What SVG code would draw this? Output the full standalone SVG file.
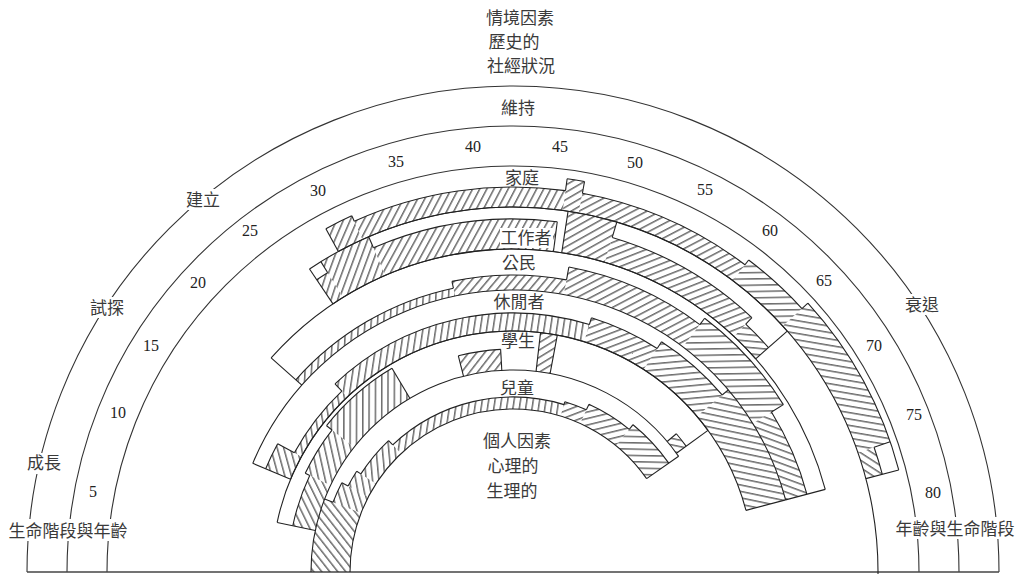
<svg xmlns="http://www.w3.org/2000/svg" width="1017" height="574" viewBox="0 0 1017 574">
<defs>
<pattern id="h" patternUnits="userSpaceOnUse" width="6.3" height="6.3" patternTransform="rotate(-38)">
<line x1="1" y1="-1" x2="1" y2="8" stroke="#2b2b2b" stroke-width="1.05"/>
</pattern>
</defs>
<style>
.h{fill:none;stroke:url(#h)}
.o{fill:none;stroke:#222;stroke-width:1.1}
.s{fill:none;stroke:#333;stroke-width:1.1}
.t{font-family:"Noto Sans CJK TC","Noto Sans CJK SC",sans-serif;font-size:17px;fill:#3a3a3a;text-anchor:middle}
.n{font-family:"Liberation Serif",serif;font-size:16px;fill:#222;text-anchor:middle}
.m{fill:#fff;stroke:none}
</style>
<rect width="1017" height="574" fill="#fff"/>

<g id="stages">
<circle class="s" cx="513" cy="572" r="486" pathLength="360" stroke-dasharray="180 360" transform="rotate(180 513 572)"/>
<circle class="s" cx="513" cy="572" r="446" pathLength="360" stroke-dasharray="180 360" transform="rotate(180 513 572)"/>
<circle class="s" cx="513" cy="572" r="406" pathLength="360" stroke-dasharray="180 360" transform="rotate(180 513 572)"/>
<line x1="27" y1="572" x2="999" y2="572" stroke="#444" stroke-width="1.6"/>
</g>

<g id="role-child">
<circle class="h" cx="513" cy="572" r="182.5" stroke-width="39" pathLength="360" stroke-dasharray="21.18 360" transform="rotate(180 513 572)"/>
<circle class="h" cx="513" cy="572" r="178" stroke-width="30" pathLength="360" stroke-dasharray="6.35 360" transform="rotate(201.18 513 572)"/>
<circle class="h" cx="513" cy="572" r="174.5" stroke-width="23" pathLength="360" stroke-dasharray="5.29 360" transform="rotate(207.53 513 572)"/>
<circle class="h" cx="513" cy="572" r="172" stroke-width="18" pathLength="360" stroke-dasharray="13.77 360" transform="rotate(212.82 513 572)"/>
<circle class="h" cx="513" cy="572" r="169" stroke-width="12" pathLength="360" stroke-dasharray="60.35 360" transform="rotate(226.59 513 572)"/>
<circle class="h" cx="513" cy="572" r="170.5" stroke-width="15" pathLength="360" stroke-dasharray="7.41 360" transform="rotate(286.94 513 572)"/>
<circle class="h" cx="513" cy="572" r="173.5" stroke-width="21" pathLength="360" stroke-dasharray="14.83 360" transform="rotate(294.35 513 572)"/>
<circle class="h" cx="513" cy="572" r="176.5" stroke-width="27" pathLength="360" stroke-dasharray="15.88 360" transform="rotate(309.18 513 572)"/>
<circle class="o" cx="513" cy="572" r="163" pathLength="360" stroke-dasharray="145.06 360" transform="rotate(180 513 572)"/>
<circle class="o" cx="513" cy="572" r="202" pathLength="360" stroke-dasharray="145.06 360" transform="rotate(180 513 572)"/>
<circle class="o" cx="513" cy="572" r="193" pathLength="360" stroke-dasharray="6.35 360" transform="rotate(201.18 513 572)"/>
<circle class="o" cx="513" cy="572" r="186" pathLength="360" stroke-dasharray="5.29 360" transform="rotate(207.53 513 572)"/>
<circle class="o" cx="513" cy="572" r="181" pathLength="360" stroke-dasharray="13.77 360" transform="rotate(212.82 513 572)"/>
<circle class="o" cx="513" cy="572" r="175" pathLength="360" stroke-dasharray="60.35 360" transform="rotate(226.59 513 572)"/>
<circle class="o" cx="513" cy="572" r="178" pathLength="360" stroke-dasharray="7.41 360" transform="rotate(286.94 513 572)"/>
<circle class="o" cx="513" cy="572" r="184" pathLength="360" stroke-dasharray="14.83 360" transform="rotate(294.35 513 572)"/>
<circle class="o" cx="513" cy="572" r="190" pathLength="360" stroke-dasharray="15.88 360" transform="rotate(309.18 513 572)"/>
<line class="o" x1="311" y1="572" x2="320" y2="572" transform="rotate(21.18 513 572)"/>
<line class="o" x1="320" y1="572" x2="327" y2="572" transform="rotate(27.53 513 572)"/>
<line class="o" x1="327" y1="572" x2="332" y2="572" transform="rotate(32.82 513 572)"/>
<line class="o" x1="332" y1="572" x2="338" y2="572" transform="rotate(46.59 513 572)"/>
<line class="o" x1="338" y1="572" x2="335" y2="572" transform="rotate(106.94 513 572)"/>
<line class="o" x1="335" y1="572" x2="329" y2="572" transform="rotate(114.35 513 572)"/>
<line class="o" x1="329" y1="572" x2="323" y2="572" transform="rotate(129.18 513 572)"/>
<line class="o" x1="350" y1="572" x2="311" y2="572" transform="rotate(145.06 513 572)"/>
</g>

<g id="role-student">
<circle class="h" cx="513" cy="572" r="213.5" stroke-width="23" pathLength="360" stroke-dasharray="13.55 360" transform="rotate(191.86 513 572)"/>
<circle class="h" cx="513" cy="572" r="216" stroke-width="28" pathLength="360" stroke-dasharray="12.71 360" transform="rotate(205.41 513 572)"/>
<circle class="h" cx="513" cy="572" r="219.5" stroke-width="35" pathLength="360" stroke-dasharray="21.17 360" transform="rotate(218.12 513 572)"/>
<circle class="h" cx="513" cy="572" r="212.5" stroke-width="21" pathLength="360" stroke-dasharray="11.01 360" transform="rotate(255.81 513 572)"/>
<circle class="h" cx="513" cy="572" r="221.5" stroke-width="39" pathLength="360" stroke-dasharray="4.03 360" transform="rotate(276.56 513 572)"/>
<circle class="h" cx="513" cy="572" r="208" stroke-width="12" pathLength="360" stroke-dasharray="4.24 360" transform="rotate(319.76 513 572)"/>
<circle class="o" cx="513" cy="572" r="241" pathLength="360" stroke-dasharray="132.14 360" transform="rotate(191.86 513 572)"/>
<circle class="o" cx="513" cy="572" r="225" pathLength="360" stroke-dasharray="13.55 360" transform="rotate(191.86 513 572)"/>
<circle class="o" cx="513" cy="572" r="230" pathLength="360" stroke-dasharray="12.71 360" transform="rotate(205.41 513 572)"/>
<circle class="o" cx="513" cy="572" r="237" pathLength="360" stroke-dasharray="21.17 360" transform="rotate(218.12 513 572)"/>
<circle class="o" cx="513" cy="572" r="223" pathLength="360" stroke-dasharray="11.01 360" transform="rotate(255.81 513 572)"/>
<circle class="o" cx="513" cy="572" r="214" pathLength="360" stroke-dasharray="4.24 360" transform="rotate(319.76 513 572)"/>
<line class="o" x1="311" y1="572" x2="272" y2="572" transform="rotate(11.86 513 572)"/>
<line class="o" x1="288" y1="572" x2="283" y2="572" transform="rotate(25.41 513 572)"/>
<line class="o" x1="283" y1="572" x2="276" y2="572" transform="rotate(38.12 513 572)"/>
<line class="o" x1="276" y1="572" x2="311" y2="572" transform="rotate(59.29 513 572)"/>
<line class="o" x1="311" y1="572" x2="290" y2="572" transform="rotate(75.81 513 572)"/>
<line class="o" x1="311" y1="572" x2="290" y2="572" transform="rotate(86.82 513 572)"/>
<line class="o" x1="311" y1="572" x2="272" y2="572" transform="rotate(96.56 513 572)"/>
<line class="o" x1="311" y1="572" x2="272" y2="572" transform="rotate(100.59 513 572)"/>
<line class="o" x1="311" y1="572" x2="299" y2="572" transform="rotate(139.76 513 572)"/>
<line class="o" x1="311" y1="572" x2="272" y2="572" transform="rotate(144 513 572)"/>
</g>

<g id="role-leisure">
<circle class="h" cx="513" cy="572" r="254.5" stroke-width="27" pathLength="360" stroke-dasharray="5.93 360" transform="rotate(202.66 513 572)"/>
<circle class="h" cx="513" cy="572" r="245" stroke-width="8" pathLength="360" stroke-dasharray="18 360" transform="rotate(208.59 513 572)"/>
<circle class="h" cx="513" cy="572" r="250" stroke-width="18" pathLength="360" stroke-dasharray="60.56 360" transform="rotate(226.59 513 572)"/>
<circle class="h" cx="513" cy="572" r="253.5" stroke-width="25" pathLength="360" stroke-dasharray="15.67 360" transform="rotate(287.15 513 572)"/>
<circle class="h" cx="513" cy="572" r="257.5" stroke-width="33" pathLength="360" stroke-dasharray="16.94 360" transform="rotate(302.82 513 572)"/>
<circle class="h" cx="513" cy="572" r="261.5" stroke-width="41" pathLength="360" stroke-dasharray="25.42 360" transform="rotate(319.76 513 572)"/>
<circle class="o" cx="513" cy="572" r="241" pathLength="360" stroke-dasharray="142.52 360" transform="rotate(202.66 513 572)"/>
<circle class="o" cx="513" cy="572" r="282" pathLength="360" stroke-dasharray="142.52 360" transform="rotate(202.66 513 572)"/>
<circle class="o" cx="513" cy="572" r="268" pathLength="360" stroke-dasharray="5.93 360" transform="rotate(202.66 513 572)"/>
<circle class="o" cx="513" cy="572" r="249" pathLength="360" stroke-dasharray="18 360" transform="rotate(208.59 513 572)"/>
<circle class="o" cx="513" cy="572" r="259" pathLength="360" stroke-dasharray="60.56 360" transform="rotate(226.59 513 572)"/>
<circle class="o" cx="513" cy="572" r="266" pathLength="360" stroke-dasharray="15.67 360" transform="rotate(287.15 513 572)"/>
<circle class="o" cx="513" cy="572" r="274" pathLength="360" stroke-dasharray="16.94 360" transform="rotate(302.82 513 572)"/>
<line class="o" x1="272" y1="572" x2="231" y2="572" transform="rotate(22.66 513 572)"/>
<line class="o" x1="245" y1="572" x2="264" y2="572" transform="rotate(28.59 513 572)"/>
<line class="o" x1="264" y1="572" x2="254" y2="572" transform="rotate(46.59 513 572)"/>
<line class="o" x1="254" y1="572" x2="247" y2="572" transform="rotate(107.15 513 572)"/>
<line class="o" x1="247" y1="572" x2="239" y2="572" transform="rotate(122.82 513 572)"/>
<line class="o" x1="239" y1="572" x2="231" y2="572" transform="rotate(139.76 513 572)"/>
<line class="o" x1="272" y1="572" x2="231" y2="572" transform="rotate(165.18 513 572)"/>
</g>

<g id="role-citizen">
<circle class="h" cx="513" cy="572" r="286" stroke-width="8" pathLength="360" stroke-dasharray="36.63 360" transform="rotate(221.51 513 572)"/>
<circle class="h" cx="513" cy="572" r="289.5" stroke-width="15" pathLength="360" stroke-dasharray="22.24 360" transform="rotate(258.14 513 572)"/>
<circle class="h" cx="513" cy="572" r="296" stroke-width="28" pathLength="360" stroke-dasharray="26.68 360" transform="rotate(280.38 513 572)"/>
<circle class="h" cx="513" cy="572" r="300" stroke-width="36" pathLength="360" stroke-dasharray="21.18 360" transform="rotate(307.06 513 572)"/>
<circle class="h" cx="513" cy="572" r="293" stroke-width="22" pathLength="360" stroke-dasharray="16.94 360" transform="rotate(328.24 513 572)"/>
<circle class="o" cx="513" cy="572" r="323" pathLength="360" stroke-dasharray="123.67 360" transform="rotate(221.51 513 572)"/>
<circle class="o" cx="513" cy="572" r="290" pathLength="360" stroke-dasharray="36.63 360" transform="rotate(221.51 513 572)"/>
<circle class="o" cx="513" cy="572" r="297" pathLength="360" stroke-dasharray="22.24 360" transform="rotate(258.14 513 572)"/>
<circle class="o" cx="513" cy="572" r="310" pathLength="360" stroke-dasharray="26.68 360" transform="rotate(280.38 513 572)"/>
<circle class="o" cx="513" cy="572" r="318" pathLength="360" stroke-dasharray="21.18 360" transform="rotate(307.06 513 572)"/>
<circle class="o" cx="513" cy="572" r="304" pathLength="360" stroke-dasharray="16.94 360" transform="rotate(328.24 513 572)"/>
<line class="o" x1="231" y1="572" x2="190" y2="572" transform="rotate(41.51 513 572)"/>
<line class="o" x1="223" y1="572" x2="216" y2="572" transform="rotate(78.14 513 572)"/>
<line class="o" x1="216" y1="572" x2="203" y2="572" transform="rotate(100.38 513 572)"/>
<line class="o" x1="203" y1="572" x2="195" y2="572" transform="rotate(127.06 513 572)"/>
<line class="o" x1="195" y1="572" x2="209" y2="572" transform="rotate(148.24 513 572)"/>
<line class="o" x1="231" y1="572" x2="190" y2="572" transform="rotate(165.18 513 572)"/>
</g>

<g id="role-worker">
<circle class="h" cx="513" cy="572" r="337.5" stroke-width="29" pathLength="360" stroke-dasharray="2.12 360" transform="rotate(236.12 513 572)"/>
<circle class="h" cx="513" cy="572" r="344" stroke-width="42" pathLength="360" stroke-dasharray="8.47 360" transform="rotate(238.24 513 572)"/>
<circle class="h" cx="513" cy="572" r="338" stroke-width="30" pathLength="360" stroke-dasharray="30.49 360" transform="rotate(246.71 513 572)"/>
<circle class="h" cx="513" cy="572" r="344" stroke-width="42" pathLength="360" stroke-dasharray="7.84 360" transform="rotate(278.68 513 572)"/>
<circle class="h" cx="513" cy="572" r="336" stroke-width="26" pathLength="360" stroke-dasharray="26.68 360" transform="rotate(286.52 513 572)"/>
<circle class="h" cx="513" cy="572" r="331.5" stroke-width="17" pathLength="360" stroke-dasharray="5.51 360" transform="rotate(313.2 513 572)"/>
<circle class="o" cx="513" cy="572" r="323" pathLength="360" stroke-dasharray="82.59 360" transform="rotate(236.12 513 572)"/>
<circle class="o" cx="513" cy="572" r="365" pathLength="360" stroke-dasharray="82.59 360" transform="rotate(236.12 513 572)"/>
<circle class="o" cx="513" cy="572" r="352" pathLength="360" stroke-dasharray="2.12 360" transform="rotate(236.12 513 572)"/>
<circle class="o" cx="513" cy="572" r="353" pathLength="360" stroke-dasharray="30.49 360" transform="rotate(246.71 513 572)"/>
<circle class="o" cx="513" cy="572" r="349" pathLength="360" stroke-dasharray="26.68 360" transform="rotate(286.52 513 572)"/>
<circle class="o" cx="513" cy="572" r="340" pathLength="360" stroke-dasharray="5.51 360" transform="rotate(313.2 513 572)"/>
<line class="o" x1="190" y1="572" x2="148" y2="572" transform="rotate(56.12 513 572)"/>
<line class="o" x1="161" y1="572" x2="148" y2="572" transform="rotate(58.24 513 572)"/>
<line class="o" x1="148" y1="572" x2="160" y2="572" transform="rotate(66.71 513 572)"/>
<line class="o" x1="160" y1="572" x2="190" y2="572" transform="rotate(97.2 513 572)"/>
<line class="o" x1="190" y1="572" x2="148" y2="572" transform="rotate(98.68 513 572)"/>
<line class="o" x1="148" y1="572" x2="164" y2="572" transform="rotate(106.52 513 572)"/>
<line class="o" x1="164" y1="572" x2="173" y2="572" transform="rotate(133.2 513 572)"/>
<line class="o" x1="190" y1="572" x2="148" y2="572" transform="rotate(138.71 513 572)"/>
</g>

<g id="role-homemaker">
<circle class="h" cx="513" cy="572" r="378" stroke-width="26" pathLength="360" stroke-dasharray="4.24 360" transform="rotate(241.41 513 572)"/>
<circle class="h" cx="513" cy="572" r="375" stroke-width="20" pathLength="360" stroke-dasharray="32.19 360" transform="rotate(245.65 513 572)"/>
<circle class="h" cx="513" cy="572" r="381" stroke-width="32" pathLength="360" stroke-dasharray="2.54 360" transform="rotate(277.84 513 572)"/>
<circle class="h" cx="513" cy="572" r="375" stroke-width="20" pathLength="360" stroke-dasharray="26.68 360" transform="rotate(280.38 513 572)"/>
<circle class="h" cx="513" cy="572" r="378" stroke-width="26" pathLength="360" stroke-dasharray="10.59 360" transform="rotate(307.06 513 572)"/>
<circle class="h" cx="513" cy="572" r="382" stroke-width="34" pathLength="360" stroke-dasharray="23.29 360" transform="rotate(317.65 513 572)"/>
<circle class="h" cx="513" cy="572" r="373.5" stroke-width="17" pathLength="360" stroke-dasharray="4.24 360" transform="rotate(340.94 513 572)"/>
<circle class="o" cx="513" cy="572" r="365" pathLength="360" stroke-dasharray="123.77 360" transform="rotate(241.41 513 572)"/>
<circle class="o" cx="513" cy="572" r="391" pathLength="360" stroke-dasharray="4.24 360" transform="rotate(241.41 513 572)"/>
<circle class="o" cx="513" cy="572" r="385" pathLength="360" stroke-dasharray="32.19 360" transform="rotate(245.65 513 572)"/>
<circle class="o" cx="513" cy="572" r="397" pathLength="360" stroke-dasharray="2.54 360" transform="rotate(277.84 513 572)"/>
<circle class="o" cx="513" cy="572" r="385" pathLength="360" stroke-dasharray="26.68 360" transform="rotate(280.38 513 572)"/>
<circle class="o" cx="513" cy="572" r="391" pathLength="360" stroke-dasharray="10.59 360" transform="rotate(307.06 513 572)"/>
<circle class="o" cx="513" cy="572" r="399" pathLength="360" stroke-dasharray="27.53 360" transform="rotate(317.65 513 572)"/>
<circle class="o" cx="513" cy="572" r="382" pathLength="360" stroke-dasharray="4.24 360" transform="rotate(340.94 513 572)"/>
<line class="o" x1="148" y1="572" x2="122" y2="572" transform="rotate(61.41 513 572)"/>
<line class="o" x1="122" y1="572" x2="128" y2="572" transform="rotate(65.65 513 572)"/>
<line class="o" x1="128" y1="572" x2="116" y2="572" transform="rotate(97.84 513 572)"/>
<line class="o" x1="116" y1="572" x2="128" y2="572" transform="rotate(100.38 513 572)"/>
<line class="o" x1="128" y1="572" x2="122" y2="572" transform="rotate(127.06 513 572)"/>
<line class="o" x1="122" y1="572" x2="114" y2="572" transform="rotate(137.65 513 572)"/>
<line class="o" x1="114" y1="572" x2="131" y2="572" transform="rotate(160.94 513 572)"/>
<line class="o" x1="148" y1="572" x2="114" y2="572" transform="rotate(165.18 513 572)"/>
</g>

<g id="labels">
<rect class="m" x="185" y="189" width="37" height="21"/>
<rect class="m" x="89" y="297" width="37" height="21"/>
<rect class="m" x="26" y="453" width="37" height="21"/>
<rect class="m" x="903" y="294" width="37" height="21"/>
<rect class="m" x="7" y="519" width="123" height="22"/>
<rect class="m" x="893" y="517" width="124" height="22"/>
<rect class="m" x="500" y="228" width="53" height="20"/>
<text class="t" x="520" y="24">情境因素</text>
<text class="t" x="514" y="48">歷史的</text>
<text class="t" x="521" y="72">社經狀況</text>
<text class="t" x="518" y="114">維持</text>
<text class="t" x="203" y="206">建立</text>
<text class="t" x="107" y="314">試探</text>
<text class="t" x="44" y="469">成長</text>
<text class="t" x="922" y="311">衰退</text>
<text class="t" x="68" y="537">生命階段與年齡</text>
<text class="t" x="955" y="535">年齡與生命階段</text>
<text class="t" x="522" y="184">家庭</text>
<text class="t" x="526" y="244">工作者</text>
<text class="t" x="519" y="269">公民</text>
<text class="t" x="519" y="308">休閒者</text>
<text class="t" x="518" y="347">學生</text>
<text class="t" x="517" y="394">兒童</text>
<text class="t" x="517" y="447">個人因素</text>
<text class="t" x="513" y="472">心理的</text>
<text class="t" x="512" y="497">生理的</text>
<text class="n" x="93" y="497">5</text>
<text class="n" x="118" y="418">10</text>
<text class="n" x="151" y="351">15</text>
<text class="n" x="198" y="288">20</text>
<text class="n" x="250" y="236">25</text>
<text class="n" x="318" y="196">30</text>
<text class="n" x="396" y="167">35</text>
<text class="n" x="473" y="152">40</text>
<text class="n" x="560" y="152">45</text>
<text class="n" x="635" y="168">50</text>
<text class="n" x="705" y="195">55</text>
<text class="n" x="770" y="236">60</text>
<text class="n" x="824" y="286">65</text>
<text class="n" x="874" y="351">70</text>
<text class="n" x="914" y="420">75</text>
<text class="n" x="933" y="498">80</text>
</g>
</svg>
